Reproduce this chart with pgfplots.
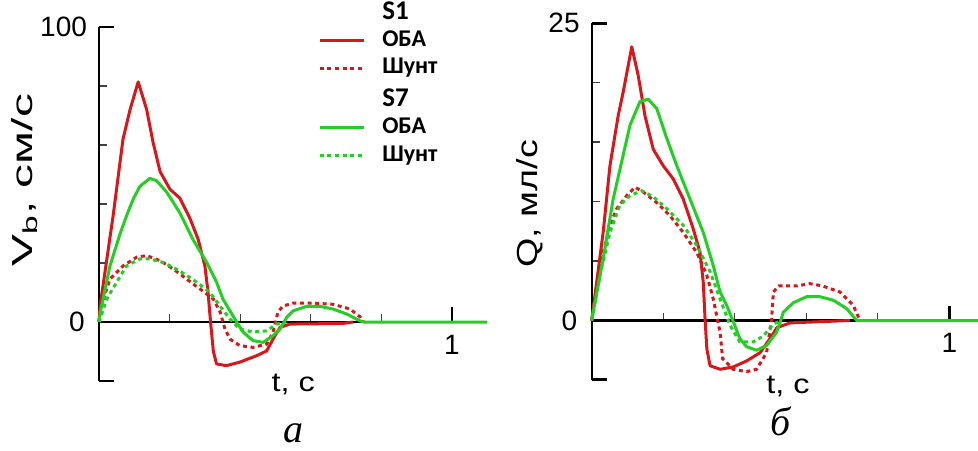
\documentclass[border=0pt]{standalone}
\usepackage{fontspec}
\setmainfont{Liberation Sans}
\newfontfamily\capfont{Liberation Serif}
\newfontfamily\legfont{Carlito}
\usepackage{graphicx}
\usepackage{pgfplots}
\pgfplotsset{compat=1.18}

\definecolor{cred}{RGB}{214,24,28}
\definecolor{cgreen}{RGB}{36,206,36}

\pgfplotsset{
  panel/.style={
    axis y line=left, axis x line=middle,
    axis line style={-, line width=1.2pt, black},
    enlargelimits=false, clip=false,
    tick align=inside,
    /pgf/number format/assume math mode=true,
    tick label style={font=\fontsize{14}{14}\selectfont},
    major tick length=7.5pt, minor tick length=4pt,
    every major tick/.append style={line width=1.2pt, black},
    every minor tick/.append style={line width=0.6pt, black!75},
    xtick={1},
    minor xtick={0.2,0.4,0.6,0.8},
    yticklabel style={xshift=-2.5pt},
    xticklabel style={yshift=-3pt},
    x label style={anchor=base, font=\fontsize{13.5}{14}\selectfont},
    y label style={anchor=center, font=\fontsize{14.5}{15}\selectfont},
  },
  solidl/.style={line width=1.5pt, line join=round},
  dotl/.style={line width=1.5pt, dash pattern=on 2pt off 1.8pt},
}
\tikzset{zerolab/.style={anchor=east, font=\fontsize{14}{14}\selectfont, inner sep=0pt, xshift=-7pt}}
\newcommand{\lstrut}{\rule{0pt}{9.7pt}}

\begin{document}
\begin{tikzpicture}
\path[use as bounding box] (0,0) rectangle (489pt,225pt);

% --- panel a: velocity
\begin{axis}[panel,
  at={(49.5pt,34.5pt)}, anchor=south west,
  x=176.5pt, y=1.475pt,
  xmin=0, xmax=1.1, ymin=-20, ymax=100,
  ytick={-19.9,0,99.9}, yticklabels={,,100},
  minor ytick={20,40,60,80},
  xlabel={\scalebox{1.2}[1]{t, с}},
  xlabel style={at={(axis cs:0.55,-23.7)}},
  ylabel={\scalebox{1.65}[1]{V\textsubscript{b}, см/с}},
  ylabel style={at={(axis cs:-0.21,48)}},
  legend style={at={(axis cs:0.62,109.4)}, anchor=north west, draw=none, fill=none,
    font=\legfont\bfseries\fontsize{12}{13}\selectfont,
    inner sep=0pt, row sep=0pt,
    nodes={inner sep=0pt, text depth=4pt}},
  legend cell align=left,
  legend image code/.code={\draw[#1] (0pt,0pt) -- (22pt,0pt); \path (30.5pt,0pt);},
]
\addlegendimage{empty legend}
\addlegendentry{\lstrut\fontsize{13.5}{13}\selectfont S1}
\addplot[solidl, cred] coordinates {
(0,0) (0.003,5.4) (0.04,36) (0.068,62) (0.088,72) (0.111,81.4) (0.135,72)
(0.153,61) (0.173,51) (0.201,45) (0.229,42) (0.258,35) (0.281,28) (0.300,19)
(0.309,10) (0.316,0) (0.324,-10) (0.333,-14.2) (0.361,-14.8) (0.399,-13.6)
(0.447,-11.4) (0.475,-9.8) (0.493,-5.8) (0.513,-1.8) (0.541,-0.7) (0.69,-0.5)
(0.72,0)
};
\addlegendentry{\lstrut ОБА}
\addplot[dotl, cred] coordinates {
(0,0) (0.005,5) (0.031,14.6) (0.068,19) (0.107,22) (0.135,22.5) (0.173,20.8)
(0.21,18) (0.248,14.6) (0.286,11.2) (0.324,7.8) (0.343,3.4) (0.357,-2.4)
(0.371,-5.8) (0.399,-8) (0.436,-8.6) (0.475,-7.5) (0.493,-3.4) (0.507,3.4)
(0.521,5.4) (0.55,6.4) (0.607,6.4) (0.663,6) (0.711,4.4) (0.74,1.7) (0.75,0)
};
\addlegendentry{\lstrut Шунт}
\addlegendimage{empty legend}
\addlegendentry{\rule{0pt}{12.2pt}\fontsize{13.5}{13}\selectfont S7}
\addplot[solidl, cgreen] coordinates {
(0,0) (0.005,4) (0.031,19) (0.06,30) (0.078,36) (0.097,41.7) (0.116,46)
(0.144,48.7) (0.163,47.9) (0.192,44) (0.229,37) (0.266,28) (0.305,20.2)
(0.333,13.5) (0.351,7.8) (0.371,3.8) (0.39,0) (0.408,-3.4) (0.436,-6.3)
(0.465,-6.9) (0.493,-4.6) (0.513,-2.4) (0.532,1.6) (0.55,3.8) (0.588,5.3)
(0.626,5.3) (0.663,4.4) (0.702,2.7) (0.739,0.4) (0.75,0) (1.1,0)
};
\addlegendentry{\lstrut ОБА}
\addplot[dotl, cgreen] coordinates {
(0,0) (0.022,7.8) (0.05,13.5) (0.078,19) (0.116,21.4) (0.144,21.4) (0.182,20.2)
(0.229,17.3) (0.277,13.5) (0.314,10) (0.343,5.4) (0.371,1) (0.399,-2.4)
(0.436,-3.4) (0.475,-3.0) (0.503,-0.7) (0.53,0)
};
\addlegendentry{\lstrut Шунт}
\node[zerolab] at (axis cs:0,0) {0};
\node[font=\capfont\itshape\fontsize{20}{20}\selectfont, anchor=base] at (axis cs:0.552,-40.7) {а};
\end{axis}

% --- panel b: flow
\begin{axis}[panel,
  at={(295.85pt,35pt)}, anchor=south west,
  x=178.8pt, y=5.95pt,
  xmin=0, xmax=1.08, ymin=-5, ymax=25,
  ytick={-4.97,0,24.97}, yticklabels={,,25},
  minor ytick={5,10,15,20},
  xlabel={\scalebox{1.2}[1]{t, с}},
  xlabel style={at={(axis cs:0.549,-6.16)}},
  ylabel={\scalebox{1.3}[1]{Q, мл/с}},
  ylabel style={at={(axis cs:-0.173,9.8)}},
]
\addplot[solidl, cred] coordinates {
(0,0) (0.032,7.4) (0.051,13.0) (0.074,17.2) (0.088,19.2) (0.112,23.0) (0.130,20.6)
(0.149,17.2) (0.172,14.4) (0.2,13.0) (0.228,11.9) (0.256,10.2) (0.284,7.7)
(0.303,5.7) (0.312,3.2) (0.317,0.1) (0.322,-2.4) (0.331,-3.8) (0.359,-4.1)
(0.396,-3.9) (0.433,-3.4) (0.471,-2.7) (0.499,-1.5) (0.518,-0.6) (0.555,-0.2)
(0.722,0)
};
\addplot[dotl, cred] coordinates {
(0,0) (0.023,4.6) (0.051,8.0) (0.07,9.4) (0.098,10.5) (0.121,11.2) (0.144,10.8)
(0.182,9.9) (0.219,8.8) (0.256,7.4) (0.294,5.7) (0.322,3.8) (0.34,1.8)
(0.359,-1.0) (0.366,-3.2) (0.396,-4.1) (0.433,-4.3) (0.461,-4.1) (0.489,-2.7)
(0.503,0.1) (0.508,2.4) (0.523,2.9) (0.573,2.9) (0.61,3.1) (0.646,2.9)
(0.694,2.4) (0.731,1.3) (0.75,0)
};
\addplot[solidl, cgreen] coordinates {
(0,0) (0.032,5.2) (0.06,10.2) (0.088,13.9) (0.107,16.4) (0.135,18.4) (0.158,18.6)
(0.182,17.8) (0.21,15.3) (0.238,13.0) (0.275,10.2) (0.312,7.4) (0.34,4.6)
(0.359,2.4) (0.377,1.3) (0.396,-0.1) (0.414,-1.5) (0.433,-2.2) (0.461,-2.5)
(0.489,-2.1) (0.517,-1.0) (0.536,0.7) (0.564,1.5) (0.601,2.0) (0.638,2.0)
(0.676,1.7) (0.713,1.0) (0.741,0) (1.08,0)
};
\addplot[dotl, cgreen] coordinates {
(0,0) (0.023,3.8) (0.051,7.4) (0.079,9.7) (0.107,10.5) (0.14,10.9) (0.172,10.4)
(0.21,9.4) (0.256,8.0) (0.294,6.3) (0.331,4.1) (0.359,1.8) (0.387,-0.4)
(0.414,-1.8) (0.452,-1.8) (0.48,-1.3) (0.508,-0.3) (0.53,0)
};
\node[zerolab] at (axis cs:0,0) {0};
\node[font=\capfont\itshape\fontsize{20}{20}\selectfont, anchor=base] at (axis cs:0.527,-9.69) {б};
\end{axis}
\end{tikzpicture}
\end{document}
